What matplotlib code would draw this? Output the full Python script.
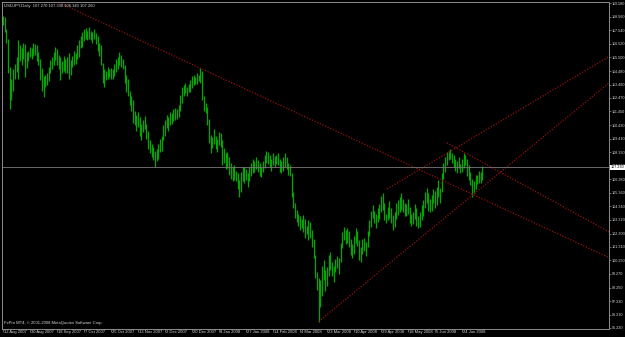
# ==========================================
# USDJPY DAILY - MT4 STYLE BAR CHART
# ==========================================

import numpy as np
import matplotlib
matplotlib.use("Agg")
import matplotlib.pyplot as plt
import matplotlib.transforms as mtransforms

# ==========================================
# DATA
# ==========================================

highs = [
    118.6, 118.5, 117.6, 116.9, 114.8, 113.9, 114.6, 115.0, 115.5, 116.8,
    116.4, 116.2, 116.6, 116.5, 115.9, 116.0, 116.3, 116.2, 116.6, 116.5,
    116.4, 115.9, 115.4, 114.7, 114.1, 114.2, 114.3, 114.8, 115.3, 115.5,
    115.9, 116.3, 116.1, 115.7, 115.5, 115.2, 115.6, 115.4, 115.5, 115.8,
    115.3, 115.6, 116.0, 115.8, 116.4, 116.8, 117.1, 117.4, 117.6, 117.7,
    117.5, 117.8, 117.5, 117.4, 117.6, 117.3, 117.1, 116.6, 116.4, 115.1,
    114.6, 114.5, 114.8, 114.6, 114.7, 114.6, 115.0, 115.4, 115.5, 115.9,
    115.7, 115.4, 114.9, 114.2, 113.9, 113.0, 112.6, 112.3, 111.5, 111.2,
    111.4, 111.0, 110.5, 110.8, 111.1, 110.5, 110.0, 109.3, 109.0, 108.8,
    108.5, 108.6, 109.0, 109.4, 109.6, 110.4, 110.8, 111.2, 111.0, 111.4,
    111.3, 111.6, 111.7, 111.6, 111.9, 112.7, 113.3, 113.4, 113.6, 113.3,
    113.5, 113.8, 114.1, 114.2, 114.0, 114.3, 114.2, 114.7, 114.5, 112.6,
    112.1, 111.8, 110.9, 109.7, 109.5, 110.1, 109.6, 109.4, 109.9, 109.8,
    109.3, 108.7, 108.3, 108.4, 108.0, 107.6, 107.3, 107.4, 107.0, 106.8,
    106.3, 106.9, 107.3, 107.3, 107.1, 106.8, 107.3, 107.6, 107.9, 107.7,
    108.0, 107.8, 107.6, 107.3, 107.7, 108.2, 108.5, 108.4, 108.2, 107.9,
    108.3, 108.1, 108.2, 108.3, 107.9, 107.7, 108.0, 108.3, 108.0, 107.6,
    107.4, 106.8, 105.4, 104.6, 104.1, 103.8, 103.6, 103.4, 103.7, 103.4,
    102.9, 103.3, 103.2, 102.6, 101.9, 100.7, 99.4, 99.0, 98.8, 99.9,
    100.3, 99.6, 99.8, 100.7, 100.9, 100.2, 99.9, 100.4, 100.6, 100.5,
    101.6, 102.4, 102.8, 102.6, 102.7, 102.5, 101.9, 101.5, 102.1, 102.7,
    102.5, 101.8, 101.3, 101.9, 102.0, 101.7, 102.5, 103.3, 104.0, 104.4,
    104.0, 103.8, 104.2, 104.5, 105.1, 105.3, 104.6, 103.8, 104.3, 104.7,
    104.2, 103.7, 103.9, 104.6, 104.8, 105.0, 105.3, 104.9, 104.6, 104.5,
    104.9, 104.3, 103.8, 103.9, 104.5, 104.2, 103.6, 103.9, 104.4, 104.8,
    105.4, 105.7, 105.3, 104.9, 105.2, 105.6, 105.5, 105.8, 106.3, 105.7,
    106.8, 107.6, 108.0, 108.4, 108.5, 108.6, 108.3, 108.2, 107.9, 107.7,
    108.0, 107.5, 107.9, 108.3, 108.2, 107.9, 107.4, 106.9, 106.4, 106.2,
    106.7, 106.7, 107.0, 106.9, 107.33,
]

lows = [
    117.9, 117.4, 116.6, 114.3, 111.6, 112.3, 113.0, 113.9, 114.4, 113.9,
    115.2, 114.9, 115.4, 114.0, 114.7, 115.2, 115.5, 115.4, 115.6, 115.7,
    115.2, 114.9, 113.8, 113.0, 112.5, 113.3, 113.4, 113.7, 114.3, 114.6,
    114.9, 115.3, 114.9, 114.6, 113.8, 114.3, 114.5, 114.3, 114.3, 113.9,
    114.2, 114.8, 114.9, 115.0, 115.4, 115.5, 116.2, 116.3, 116.7, 116.9,
    116.8, 116.9, 116.8, 116.6, 116.9, 116.5, 116.0, 115.6, 114.9, 113.6,
    113.3, 113.8, 113.9, 114.0, 113.9, 113.9, 114.1, 114.4, 114.6, 114.9,
    114.8, 114.6, 113.6, 112.9, 112.6, 111.9, 111.5, 110.6, 110.4, 110.0,
    110.3, 109.6, 109.3, 109.9, 110.1, 109.4, 108.6, 108.3, 108.0, 107.8,
    107.3, 107.7, 107.9, 108.4, 108.5, 109.3, 109.6, 110.2, 110.0, 110.4,
    110.5, 110.7, 110.8, 110.9, 111.0, 111.5, 112.1, 112.6, 112.8, 112.6,
    112.9, 112.9, 113.2, 113.4, 113.5, 113.5, 113.7, 113.6, 112.3, 111.5,
    111.3, 110.4, 109.1, 108.3, 108.7, 109.0, 108.6, 108.4, 108.9, 108.8,
    107.4, 107.6, 107.1, 107.2, 106.7, 106.4, 106.2, 106.3, 106.2, 105.6,
    105.0, 105.4, 106.2, 106.1, 106.3, 105.8, 106.2, 106.6, 106.8, 106.9,
    107.1, 106.9, 106.6, 106.5, 106.9, 107.2, 107.6, 107.5, 107.3, 107.0,
    107.4, 107.3, 107.5, 107.4, 106.9, 106.8, 107.0, 107.3, 107.1, 106.7,
    106.6, 105.0, 104.2, 103.5, 103.2, 102.9, 102.6, 102.7, 102.4, 102.0,
    102.3, 101.8, 102.0, 101.3, 100.5, 99.0, 98.1, 95.7, 96.8, 97.6,
    98.8, 98.0, 98.4, 99.1, 99.6, 99.1, 98.7, 99.4, 99.7, 99.3,
    100.2, 101.2, 101.8, 101.5, 101.6, 101.3, 100.7, 100.5, 100.8, 101.6,
    101.4, 100.3, 100.2, 100.8, 101.0, 100.6, 101.3, 102.1, 102.8, 103.5,
    103.1, 102.7, 103.2, 103.4, 103.9, 104.1, 103.3, 103.1, 103.3, 103.5,
    103.1, 102.6, 102.8, 103.4, 103.7, 103.9, 104.1, 103.9, 103.6, 103.6,
    103.8, 103.1, 102.9, 103.0, 103.4, 102.9, 102.7, 102.8, 103.3, 103.6,
    104.2, 104.6, 104.0, 103.9, 104.0, 104.6, 104.2, 104.4, 105.0, 104.6,
    105.4, 106.4, 106.9, 107.4, 107.8, 107.9, 107.6, 107.3, 107.0, 106.8,
    107.2, 106.8, 106.9, 107.2, 107.4, 106.6, 106.3, 105.9, 105.0, 105.3,
    105.6, 106.0, 106.1, 106.1, 106.34,
]

# last bar OHLC (shown in the header) and bid line
last_ohlc = [107.270, 107.330, 106.340, 107.260]
bid = 107.260

# price scale labels on the right
price_ticks = [119.580, 118.560, 117.540, 116.520, 115.500, 114.480, 113.460,
               112.470, 111.450, 110.430, 109.410, 108.390, 107.370, 106.380,
               105.360, 104.340, 103.320, 102.300, 101.310, 100.290, 99.270,
               98.250, 97.230, 96.210, 95.220]

# date labels, one every 16 bars
date_labels = ["12 Aug 2007", "30 Aug 2007", "18 Sep 2007", "7 Oct 2007",
               "25 Oct 2007", "13 Nov 2007", "2 Dec 2007", "20 Dec 2007",
               "8 Jan 2008", "27 Jan 2008", "14 Feb 2008", "4 Mar 2008",
               "23 Mar 2008", "10 Apr 2008", "29 Apr 2008", "18 May 2008",
               "5 Jun 2008", "24 Jun 2008"]

# trendlines: (bar, price) anchor pairs, drawn as rays to the right
trend_a = [(0, 121.55), (284, 104.90)]
trend_b = [(263, 109.10), (359, 102.43)]
trend_c = [(187, 95.70), (359, 113.58)]
trend_d = [(227.6, 105.64), (359, 115.56)]

# ==========================================
# FIGURE
# ==========================================

W, H = 625, 337
fig = plt.figure(figsize=(W / 100, H / 100), dpi=100, facecolor="black")
ax = fig.add_axes([2 / W, 8 / H, 607 / W, 327 / H], facecolor="black")

FONT = "Liberation Sans"
FS = 3.0
YFS = 2.7
GRAY = "#8c8c8c"
TXT = "#d8d8d8"

bars = np.arange(len(highs))
ax.vlines(bars, lows, highs, colors="#00a800", linewidth=0.9)

ax.set_xlim(-0.6, 359.1)
ax.set_ylim(95.142, 119.655)

# trendlines
for line in [trend_a, trend_b, trend_c, trend_d]:
    (x1, y1), (x2, y2) = line
    slope = (y2 - y1) / (x2 - x1)
    xe = 359.1
    ax.plot([x1, xe], [y1, y1 + slope * (xe - x1)], color="#961010",
            linestyle=(0, (1, 1.3)), linewidth=0.9)

# bid line
ax.axhline(bid, color="#7a7a7a", linewidth=0.6)

# ==========================================
# AXES STYLE
# ==========================================

for s in ax.spines.values():
    s.set_color(GRAY)
    s.set_linewidth(0.7)

ax.yaxis.tick_right()
ax.set_yticks(price_ticks)
ax.set_yticklabels([f"{p:.3f}" for p in price_ticks], fontsize=YFS,
                   family=FONT, color=TXT)
ax.tick_params(axis="y", length=1.5, width=0.5, color=GRAY, pad=0.3)

label_bars = list(range(0, 16 * len(date_labels), 16))
ax.set_xticks(label_bars)
ax.set_xticklabels([])
ax.tick_params(axis="x", length=2, width=0.5, color=GRAY)
tr = mtransforms.blended_transform_factory(ax.transData, ax.transAxes)
for b, lab in zip(label_bars, date_labels):
    ax.text(b + 0.5, -0.004, lab, transform=tr, ha="left", va="top",
            fontsize=FS, family=FONT, color=TXT, clip_on=False)

# bid label
ax.text(1.003, bid, f"{bid:.3f}", transform=mtransforms.blended_transform_factory(
    ax.transAxes, ax.transData), ha="left", va="center", fontsize=YFS,
    family=FONT, color="black", clip_on=False,
    bbox=dict(boxstyle="square,pad=0.1", fc="white", ec="none"))

# header and copyright
o, h, l, c = last_ohlc
ax.text(0.003, 0.995, f"USDJPY,Daily  {o:.3f} {h:.3f} {l:.3f} {c:.3f}",
        transform=ax.transAxes, ha="left", va="top", fontsize=FS,
        family=FONT, color=TXT)
ax.text(0.003, 0.012, "FxPro MT4, \u00a9 2001-2008 MetaQuotes Software Corp.",
        transform=ax.transAxes, ha="left", va="bottom", fontsize=FS,
        family=FONT, color=TXT)

fig.savefig("out.png", dpi=100, facecolor="black")
